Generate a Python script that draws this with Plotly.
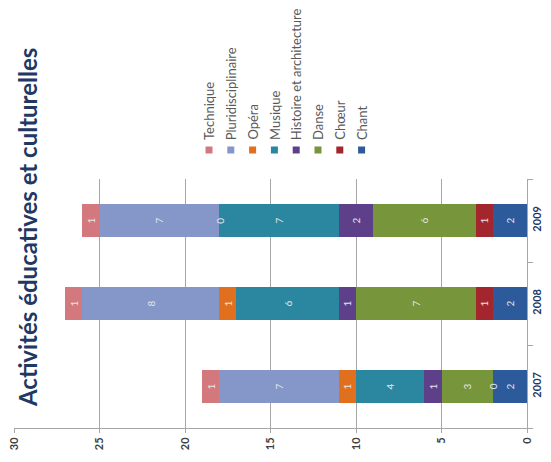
import plotly.graph_objects as go

years = ["2007", "2008", "2009"]
series_names = ["Chant", "Chœur", "Danse", "Histoire et architecture",
                "Musique", "Opéra", "Pluridisciplinaire", "Technique"]
chant = [2, 2, 2]
choeur = [0, 1, 1]
danse = [3, 7, 6]
histoire = [1, 1, 2]
musique = [4, 6, 7]
opera = [1, 1, 0]
pluri = [7, 8, 7]
technique = [1, 1, 1]
series_values = [chant, choeur, danse, histoire, musique, opera, pluri, technique]
colors = ["#2C5A9A", "#A3262E", "#77953A", "#5E3F8A",
          "#2B87A0", "#E0701E", "#8497C8", "#D3787D"]
value_ticks = [0, 5, 10, 15, 20, 25, 30]
title_text = "Activités éducatives et culturelles"

# page body has an 8px margin, so the figure is shrunk by that offset
OFF = 8
W, H = 551 - OFF, 462 - OFF
ML, MR, MT, MB = 14 - OFF, 24, 179 - OFF, 34
PW, PH = W - ML - MR, H - MT - MB

def px_to_paper_x(px):
    return (px - OFF - ML) / PW

def px_to_paper_y(py):
    return (H - MB - (py - OFF)) / PH

label_font = dict(family="Lato", size=10, color="#E6E6E6")

fig = go.Figure()
for name, vals, col in zip(series_names, series_values, colors):
    fig.add_trace(go.Bar(
        y=years, x=vals, name=name, orientation="h",
        marker=dict(color=col, line=dict(width=0)),
        text=[str(v) if v != 0 else "" for v in vals],
        textposition="inside", insidetextanchor="middle",
        textangle=-90, constraintext="none",
        textfont=label_font, showlegend=False,
    ))

annotations = []
# zero-valued segment labels
for i, y in enumerate(years):
    cum = 0
    for vals in series_values:
        if vals[i] == 0:
            annotations.append(dict(
                x=cum, y=i, xref="x", yref="y", text="0", showarrow=False,
                textangle=-90, font=label_font))
        cum += vals[i]

# title
annotations.append(dict(
    x=px_to_paper_x(27), y=px_to_paper_y(228), xref="paper", yref="paper",
    text=title_text, showarrow=False, textangle=-90,
    font=dict(family="Lato", size=24, color="#1F3864", weight="bold"),
    bgcolor="white", borderpad=4, xanchor="center", yanchor="middle"))

# manual rotated legend
shapes = []
legend_order = list(reversed(series_names))
legend_colors = list(reversed(colors))
for k, (name, col) in enumerate(zip(legend_order, legend_colors)):
    cx = 209 + k * 21.8
    shapes.append(dict(type="rect", xref="paper", yref="paper",
                       x0=px_to_paper_x(cx - 3.5), x1=px_to_paper_x(cx + 3.5),
                       y0=px_to_paper_y(153.5), y1=px_to_paper_y(146.5),
                       fillcolor=col, line=dict(width=0)))
    annotations.append(dict(
        x=px_to_paper_x(cx), y=px_to_paper_y(142), xref="paper", yref="paper",
        text=name, showarrow=False, textangle=-90,
        xanchor="center", yanchor="bottom",
        font=dict(family="Lato", size=13, color="#595959")))

fig.update_layout(
    width=W, height=H,
    margin=dict(l=ML, r=MR, t=MT, b=MB, autoexpand=False),
    barmode="stack", bargap=0.6,
    paper_bgcolor="white", plot_bgcolor="white",
    showlegend=False,
    annotations=annotations, shapes=shapes,
    xaxis=dict(range=[30, 0], tickvals=value_ticks, showgrid=True,
               gridcolor="#A6A6A6", gridwidth=1, zeroline=False,
               showline=True, linecolor="#A6A6A6", ticks="outside",
               ticklen=4, tickcolor="#A6A6A6", tickangle=-90, automargin=False,
               ticklabeloverflow="allow",
               tickfont=dict(family="Lato", size=11, color="#404040", weight="bold")),
    yaxis=dict(type="category", categoryorder="array", categoryarray=years,
               range=[-0.5, 2.5], autorange=False, automargin=False,
               side="right", showgrid=False, showline=True,
               linecolor="#A6A6A6", ticks="outside", tickson="boundaries",
               ticklen=5, tickcolor="#A6A6A6", tickangle=-90, ticklabelstandoff=0,
               ticklabeloverflow="allow",
               tickfont=dict(family="Lato", size=11, color="#1F3864", weight="bold")),
)

fig.write_html("out.html")
